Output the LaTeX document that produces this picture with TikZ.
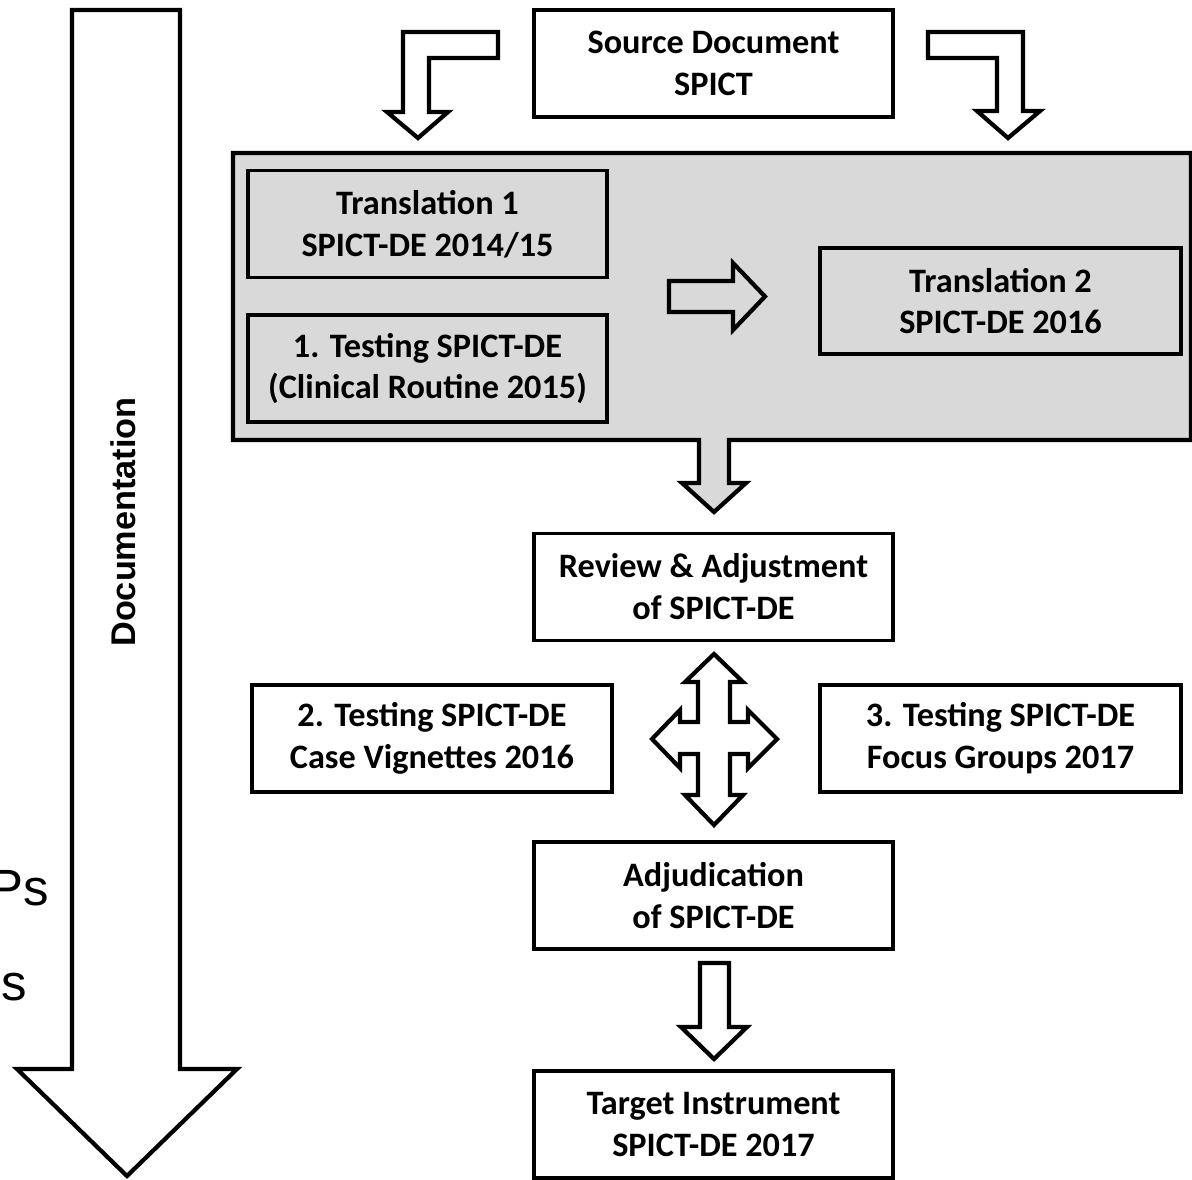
\documentclass[tikz,border=0pt]{standalone}
\usepackage{fontspec}
\setmainfont{Carlito}
\newfontfamily\arialfont{Liberation Sans}
\definecolor{boxgrey}{HTML}{D9D9D9}
\tikzset{
  stagebox/.style={draw, line width=2.2pt, align=center, inner sep=0pt,
    minimum width=7.18cm, minimum height=2.14cm,
    font=\fontsize{19.5}{23.8}\selectfont\bfseries},
  greystage/.style={stagebox, fill=boxgrey},
  blockarrow/.style={draw, line width=2.4pt, line join=miter, fill=white},
}
\begin{document}
\begin{tikzpicture}[x=0.02cm, y=-0.02cm]
  \useasboundingbox (0,0) rectangle (1192,1179);

  % cut-off text on the left
  \node (fragA) at (49,905) [anchor=base east, inner sep=0pt, font=\arialfont\fontsize{29}{34}\selectfont] {Ps};
  \node (fragB) at (27,1000) [anchor=base east, inner sep=0pt, font=\arialfont\fontsize{29}{34}\selectfont] {s};

  % documentation arrow
  \draw[blockarrow] (72,10) -- (180,10) -- (180,1069) -- (237,1069) -- (127,1176)
    -- (17,1069) -- (72,1069) -- cycle;
  \node (doc) at (123,522) [rotate=90, font=\arialfont\fontsize{19.5}{24}\selectfont\bfseries] {Documentation};

  % grey block with its outlet arrow
  \draw[blockarrow, fill=boxgrey] (233,153) -- (1191,153) -- (1191,440) -- (729,440)
    -- (729,483) -- (746,483) -- (714,512) -- (682,483) -- (699,483) -- (699,440)
    -- (233,440) -- cycle;

  \node (src) at (713.5,63.5) [stagebox] {Source Document\\SPICT};
  \node (trA) at (427.5,224) [greystage] {Translation 1\\SPICT-DE 2014/15};
  \node (tstA) at (427.5,368.5) [greystage] {1. Testing SPICT-DE\\(Clinical Routine 2015)};
  \node (trB) at (1000.5,301) [greystage, minimum width=7.22cm, minimum height=2.12cm] {Translation 2\\SPICT-DE 2016};
  \node (rev) at (713.5,587) [stagebox] {Review \& Adjustment\\of SPICT-DE};
  \node (tstB) at (432,738.5) [stagebox, minimum width=7.2cm] {2. Testing SPICT-DE\\Case Vignettes 2016};
  \node (tstC) at (1000.5,738.5) [stagebox, minimum width=7.22cm] {3. Testing SPICT-DE\\Focus Groups 2017};
  \node (adj) at (713.5,895.5) [stagebox] {Adjudication\\of SPICT-DE};
  \node (tgt) at (713.5,1124.5) [stagebox] {Target Instrument\\SPICT-DE 2017};

  % bent arrows from the source document
  \draw[blockarrow] (403,32) -- (498,32) -- (498,58) -- (429,58) -- (429,112)
    -- (448,112) -- (418,138) -- (387,112) -- (403,112) -- cycle;
  \draw[blockarrow] (928,32) -- (1023,32) -- (1023,111) -- (1040,111) -- (1008,138)
    -- (977,111) -- (997,111) -- (997,58) -- (928,58) -- cycle;

  % translation 1 -> translation 2
  \draw[blockarrow, fill=boxgrey] (669,281) -- (733,281) -- (733,263) -- (765,296.5)
    -- (733,330) -- (733,312) -- (669,312) -- cycle;

  % four-way arrow between review and adjudication
  \draw[blockarrow] (714,654) -- (743,682) -- (730,682) -- (730,722) -- (748,722)
    -- (748,710) -- (777,739) -- (748,768) -- (748,754) -- (730,754) -- (730,795)
    -- (743,795) -- (714,825) -- (685,795) -- (698,795) -- (698,754) -- (680,754)
    -- (680,768) -- (652,739) -- (680,710) -- (680,722) -- (698,722) -- (698,682)
    -- (685,682) -- cycle;

  % adjudication -> target
  \draw[blockarrow] (700,963) -- (729,963) -- (729,1027) -- (747,1027) -- (714,1059)
    -- (681,1027) -- (700,1027) -- cycle;
\end{tikzpicture}
\end{document}
